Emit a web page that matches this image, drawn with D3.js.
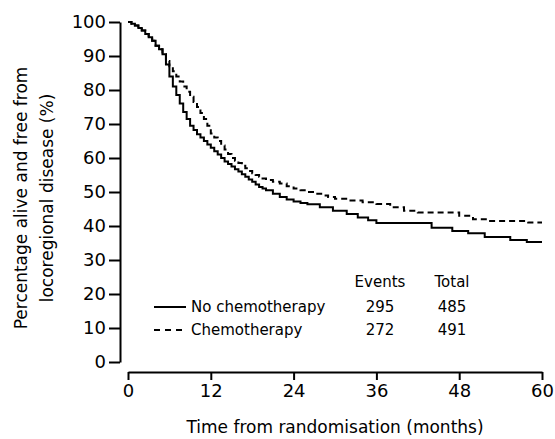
<!DOCTYPE html>
<html>
<head>
<meta charset="utf-8">
<script src="https://cdn.jsdelivr.net/npm/d3@7"></script>
<style>
  body { margin: 0; background: #fff; }
  svg { font-family: "DejaVu Sans", sans-serif; }
</style>
</head>
<body>
<svg width="555" height="439"></svg>
<script>
// Kaplan-Meier data (months, % alive and free)
var noChemoMonths = [0, 0.5, 1, 1.5, 2, 2.5, 3, 3.5, 4, 4.5, 5, 5.5, 6, 6.5, 7, 7.5, 8, 8.5, 9, 9.5, 10, 10.5, 11, 11.5, 12,
                     12.5, 13, 13.5, 14, 14.5, 15, 15.5, 16, 16.5, 17, 17.5, 18, 18.5, 19, 19.5, 20, 21, 22, 23, 24, 25,
                     26, 27.8, 29.7, 31.7, 33.3, 34.8, 36, 44, 47, 49.3, 51.7, 55.4, 57.8, 60];
var noChemoPct =    [100, 99.5, 99, 98.2, 97.5, 96.5, 95.5, 94.5, 93, 92, 90.5, 87.5, 84, 81, 78.5, 76, 73.5, 71.5, 69.5, 68.2, 67, 66, 65, 64, 63,
                     62, 61, 60, 59, 58.2, 57.5, 56.7, 56, 55.2, 54.5, 53.7, 53, 52.2, 51.5, 51, 50.5, 49.5, 48.5, 47.8, 47.2, 46.8,
                     46.4, 45.5, 44.5, 43.5, 42.5, 41.7, 40.9, 39.5, 38.5, 37.9, 36.8, 35.9, 35.3, 35.3];

var chemoMonths = [0, 0.5, 1, 1.5, 2, 2.5, 3, 3.5, 4, 4.5, 5, 5.5, 6, 6.5, 7, 7.5, 8, 8.5, 9, 9.5, 10, 10.5, 11, 11.5, 12,
                   12.5, 13, 13.5, 14, 14.5, 15, 15.5, 16, 16.5, 17, 17.5, 18, 18.5, 19, 19.5, 20, 21, 22, 23, 24, 25,
                   26, 27, 28, 29, 30, 32, 34, 36, 38, 40, 42, 46, 48, 50, 52, 56, 58, 60];
var chemoPct =    [100, 99.5, 99, 98.2, 97.5, 96.5, 95.5, 94.5, 93, 92, 90.5, 88.5, 87, 85.5, 84, 82.5, 81, 79.5, 78, 76.5, 75, 73.2, 71.5, 69.5, 67.2,
                   66, 65, 63.7, 62.5, 61.2, 60, 59.2, 58.5, 57.7, 57, 56.2, 55.5, 55, 54.5, 54, 53.5, 53, 52.5, 51.7, 51, 50.5,
                   50, 49.5, 49, 48.5, 48, 47.5, 47, 46.5, 45.5, 44.5, 44, 44, 43, 42, 41.5, 41.5, 41, 41];

var seriesNames = ["No chemotherapy", "Chemotherapy"];
var events = [295, 272];
var totals = [485, 491];
var xTicks = [0, 12, 24, 36, 48, 60];
var yTicks = [0, 10, 20, 30, 40, 50, 60, 70, 80, 90, 100];

var svg = d3.select("svg");

// scales
var x = d3.scaleLinear().domain([0, 60]).range([128, 542]);
var y = d3.scaleLinear().domain([0, 100]).range([362, 22]);

// y axis (detached, to the left of the plot)
svg.append("g")
    .attr("transform", "translate(120,0)")
    .call(d3.axisLeft(y).tickValues(yTicks).tickSize(11).tickSizeOuter(0).tickPadding(3));

// x axis (detached, below the plot)
svg.append("g")
    .attr("transform", "translate(0,372)")
    .call(d3.axisBottom(x).tickValues(xTicks).tickSize(8).tickSizeOuter(0).tickPadding(4));

svg.selectAll(".domain, .tick line").attr("stroke", "#000").attr("stroke-width", 2);
svg.selectAll(".tick text").attr("fill", "#000").style("font-size", "18px").style("font-family", "DejaVu Sans");

// curves
var line = d3.line()
    .x(function(d){ return x(d[0]) })
    .y(function(d){ return y(d[1]) })
    .curve(d3.curveStepAfter);

svg.append("path")
    .datum(d3.zip(noChemoMonths, noChemoPct))
    .attr("d", line)
    .attr("fill", "none")
    .attr("stroke", "#000")
    .attr("stroke-width", 2);

svg.append("path")
    .datum(d3.zip(chemoMonths, chemoPct))
    .attr("d", line)
    .attr("fill", "none")
    .attr("stroke", "#000")
    .attr("stroke-width", 2)
    .attr("stroke-dasharray", "6,4");

// axis titles
svg.append("text")
    .attr("x", 335).attr("y", 433)
    .attr("text-anchor", "middle")
    .style("font-size", "17px")
    .text("Time from randomisation (months)");

svg.append("text")
    .attr("transform", "translate(27,198) rotate(-90)")
    .attr("text-anchor", "middle")
    .style("font-size", "17px")
    .text("Percentage alive and free from");

svg.append("text")
    .attr("transform", "translate(53,198) rotate(-90)")
    .attr("text-anchor", "middle")
    .style("font-size", "17px")
    .text("locoregional disease (%)");

// legend table
var legend = svg.append("g").style("font-size", "15px");
legend.append("text").attr("x", 380).attr("y", 287).attr("text-anchor", "middle").text("Events");
legend.append("text").attr("x", 452).attr("y", 287).attr("text-anchor", "middle").text("Total");

seriesNames.forEach(function(name, i){
  var ly = 307 + i * 23;
  legend.append("line")
      .attr("x1", 154).attr("x2", 186).attr("y1", ly).attr("y2", ly)
      .attr("stroke", "#000").attr("stroke-width", 2)
      .attr("stroke-dasharray", i == 1 ? "6,5" : null);
  legend.append("text").attr("x", 191).attr("y", ly + 5).text(name);
  legend.append("text").attr("x", 380).attr("y", ly + 5).attr("text-anchor", "middle").text(events[i]);
  legend.append("text").attr("x", 452).attr("y", ly + 5).attr("text-anchor", "middle").text(totals[i]);
});
</script>
</body>
</html>
